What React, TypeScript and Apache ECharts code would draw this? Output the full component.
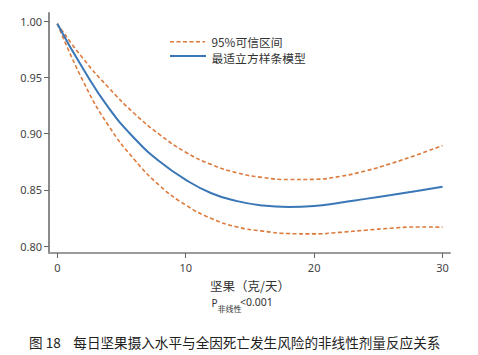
import React, { useEffect, useRef } from "react";
import * as echarts from "echarts";

const nutIntake = [0, 2, 4, 6, 8, 10, 12, 14, 16, 18, 20, 22, 24, 26, 28, 30];
const bestFit = [0.998, 0.958, 0.923, 0.896, 0.875, 0.859, 0.847, 0.84, 0.8361, 0.8348, 0.8356, 0.8386, 0.842, 0.8454, 0.849, 0.8528];
const upperCI = [0.998, 0.967, 0.941, 0.918, 0.899, 0.8835, 0.8725, 0.8652, 0.861, 0.8592, 0.8594, 0.862, 0.8669, 0.8735, 0.8812, 0.8895];
const lowerCI = [0.998, 0.947, 0.907, 0.877, 0.8535, 0.8365, 0.8245, 0.817, 0.8133, 0.8111, 0.8108, 0.8122, 0.8141, 0.8159, 0.817, 0.8168];
const xTicks = [0, 10, 20, 30];
const yTicks = [0.8, 0.85, 0.9, 0.95, 1.0];

const ORANGE = "#DD7A3C";
const BLUE = "#3A77B6";
const FONT = "'Noto Sans', 'Noto Sans CJK SC', sans-serif";
const CJK = "'Noto Sans CJK SC', 'Noto Sans', sans-serif";

export default function App() {
  const ref = useRef<HTMLDivElement>(null);
  useEffect(() => {
    document.body.style.margin = "0";
    const chart = echarts.init(ref.current!, null, { renderer: "svg" });
    const pair = (arr: number[]) => nutIntake.map((x, i) => [x, arr[i]]);
    const txt = (x: number, y: number, text: string, fontSize: number, family: string, fill = "#333") => ({
      type: "text",
      x,
      y,
      style: { text, fontSize, fontFamily: family, fill, align: "left", verticalAlign: "middle", lineHeight: fontSize },
    });
    chart.setOption({
      animation: false,
      backgroundColor: "#ffffff",
      grid: { left: 49, right: 28, top: 13, bottom: 102, containLabel: false },
      xAxis: {
        type: "value",
        min: -0.646,
        max: 30.58,
        splitLine: { show: false },
        axisLine: { show: true, onZero: false, lineStyle: { color: "#9a9a9a", width: 2 } },
        axisTick: { show: true, customValues: xTicks, length: 5, lineStyle: { color: "#666", width: 1 } },
        axisLabel: { customValues: xTicks, margin: 9, fontSize: 11, fontFamily: FONT, color: "#444" },
      },
      yAxis: {
        type: "value",
        min: 0.7938,
        max: 1.0075,
        splitLine: { show: false },
        axisLine: { show: true, onZero: false, lineStyle: { color: "#8a8a8a", width: 2 } },
        axisTick: { show: true, customValues: yTicks, length: 5, lineStyle: { color: "#666", width: 1 } },
        axisLabel: {
          customValues: yTicks,
          margin: 7,
          fontSize: 11,
          fontFamily: FONT,
          color: "#444",
          formatter: (v: number) => v.toFixed(2),
        },
      },
      series: [
        {
          name: "95%可信区间上限",
          type: "line",
          data: pair(upperCI),
          smooth: 0.5,
          symbol: "none",
          lineStyle: { color: ORANGE, width: 1.6, type: [4, 2.5] },
        },
        {
          name: "95%可信区间下限",
          type: "line",
          data: pair(lowerCI),
          smooth: 0.5,
          symbol: "none",
          lineStyle: { color: ORANGE, width: 1.6, type: [4, 2.5] },
        },
        {
          name: "最适立方样条模型",
          type: "line",
          data: pair(bestFit),
          smooth: 0.5,
          symbol: "none",
          lineStyle: { color: BLUE, width: 2 },
        },
      ],
      graphic: [
        {
          type: "line",
          shape: { x1: 170, y1: 41.7, x2: 205, y2: 41.7 },
          style: { stroke: ORANGE, lineWidth: 1.6, lineDash: [4, 2.5] },
        },
        txt(211.5, 41.5, "95%可信区间", 11.8, CJK),
        {
          type: "line",
          shape: { x1: 170, y1: 56, x2: 206, y2: 56 },
          style: { stroke: BLUE, lineWidth: 2 },
        },
        txt(211.5, 57, "最适立方样条模型", 11.8, CJK),
        txt(210, 285, "坚果（克/天）", 12.5, CJK),
        txt(211.5, 302.5, "P", 10, FONT),
        txt(217.5, 308.5, "非线性", 8, CJK),
        txt(240, 302, "<0.001", 10.5, FONT),
        txt(29, 341.5, "图 18", 13.6, CJK, "#222"),
        txt(73.3, 341.5, "每日坚果摄入水平与全因死亡发生风险的非线性剂量反应关系", 13.6, CJK, "#222"),
      ],
    });
    return () => chart.dispose();
  }, []);
  return (
    <div
      ref={ref}
      style={{ position: "absolute", left: 0, top: 0, width: 478, height: 355, background: "#fff" }}
    />
  );
}
